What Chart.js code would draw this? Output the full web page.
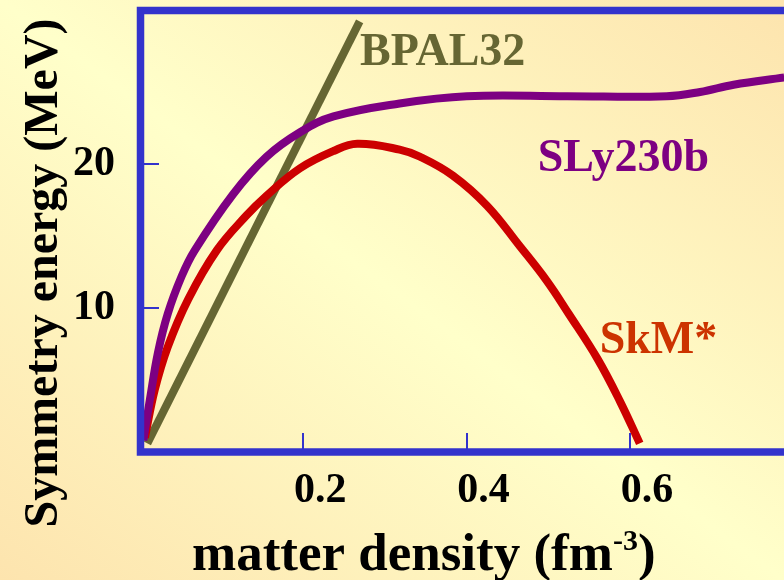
<!DOCTYPE html>
<html>
<head>
<meta charset="utf-8">
<script src="https://cdn.jsdelivr.net/npm/chart.js@4/dist/chart.umd.min.js"></script>
<style>
	html, body { margin: 0; padding: 0; }
	body {
		width: 784px; height: 580px; overflow: hidden;
		background: linear-gradient(to bottom left, #fde4ae 0%, #ffffca 50%, #fde4ae 100%);
	}
	canvas { display: block; }
</style>
</head>
<body>
<canvas id="LineChart" width="784" height="580"></canvas>
<script>
// density (fm^-3) / symmetry energy (MeV)
var slyDensity = [0.004, 0.012, 0.022, 0.034, 0.051, 0.067, 0.114, 0.155, 0.196, 0.237, 0.318, 0.40, 0.523, 0.645, 0.686, 0.727, 0.789];
var slyEnergy  = [0.8,   3.6,   6.9,   9.6,   12.2,  14.0,  17.9,  20.5,  22.2,  23.3,  24.2,  24.7, 24.7,  24.7,  25.0,  25.5,  26.0];

var skmDensity = [0.006, 0.018, 0.034, 0.059, 0.094, 0.130, 0.155, 0.196, 0.237, 0.266, 0.318, 0.343, 0.383, 0.425, 0.465, 0.498, 0.525, 0.560, 0.588, 0.612];
var skmEnergy  = [1.0,   4.3,   7.3,   10.6,  14.0,  16.4,  17.8,  19.7,  20.9,  21.4,  21.0,  20.5,  19.2,  17.1,  14.3,  11.9,  9.6,   6.5,   3.5,   0.6];

var bpalDensity = [0.009, 0.269];
var bpalEnergy  = [0.6, 29.9];

var xTickValues = [0.2, 0.4, 0.6];
var yTickValues = [10, 20];

var seriesNames = ['SLy230b', 'SkM*', 'BPAL32'];
var seriesColors = ['#7d0082', '#cc0000', '#666633'];
var labelColors = ['#7d0082', '#cc3300', '#666633'];
// where each curve name sits (data coords, left/baseline)
var labelX = [0.487, 0.563, 0.2695];
var labelY = [19.5, 6.9, 26.9];

var FONT = '"Liberation Serif", "Times New Roman", serif';
var BLUE = '#3333cc';

function toPoints(xs, ys){
	return xs.map(function(x, i){ return {x: x, y: ys[i]}; });
}

var frame = {
	id: 'frame',
	afterDatasetsDraw: function(chart){
		var ctx = chart.ctx, a = chart.chartArea;
		var xs = chart.scales.x, ys = chart.scales.y;
		ctx.save();
		// inner tick marks
		ctx.strokeStyle = BLUE;
		ctx.lineWidth = 2;
		xTickValues.forEach(function(v){
			var px = Math.round(xs.getPixelForValue(v));
			ctx.beginPath(); ctx.moveTo(px, a.bottom); ctx.lineTo(px, a.bottom - 19); ctx.stroke();
		});
		yTickValues.forEach(function(v){
			var py = Math.round(ys.getPixelForValue(v));
			ctx.beginPath(); ctx.moveTo(a.left, py); ctx.lineTo(a.left + 19, py); ctx.stroke();
		});
		// box (right side is off the page)
		ctx.lineWidth = 7.5;
		ctx.lineCap = 'square';
		ctx.beginPath();
		ctx.moveTo(chart.width + 10, a.top + 0.5);
		ctx.lineTo(a.left + 0.5, a.top + 0.5);
		ctx.lineTo(a.left + 0.5, a.bottom);
		ctx.lineTo(chart.width + 10, a.bottom);
		ctx.stroke();

		// curve names
		ctx.textBaseline = 'alphabetic';
		ctx.textAlign = 'left';
		ctx.font = 'bold 46px ' + FONT;
		seriesNames.forEach(function(n, i){
			ctx.fillStyle = labelColors[i];
			ctx.fillText(n, xs.getPixelForValue(labelX[i]), ys.getPixelForValue(labelY[i]));
		});

		// axis titles
		ctx.fillStyle = '#000';
		ctx.font = 'bold 53px ' + FONT;
		var x0 = 192, base = 570;
		var t1 = 'matter density (fm';
		ctx.fillText(t1, x0, base);
		x0 += ctx.measureText(t1).width;
		ctx.font = 'bold 30px ' + FONT;
		ctx.fillText('-3', x0, base - 20);
		x0 += ctx.measureText('-3').width;
		ctx.font = 'bold 53px ' + FONT;
		ctx.fillText(')', x0, base);

		ctx.font = 'bold 48px ' + FONT;
		ctx.translate(45, 273);
		ctx.rotate(-Math.PI / 2);
		ctx.textAlign = 'center';
		ctx.textBaseline = 'middle';
		ctx.fillText('Symmetry energy (MeV)', 0, 0);
		ctx.restore();
	}
};

new Chart(document.getElementById('LineChart'), {
	type: 'line',
	data: {
		datasets: [
			{ label: seriesNames[0], data: toPoints(slyDensity, slyEnergy), borderColor: seriesColors[0] },
			{ label: seriesNames[1], data: toPoints(skmDensity, skmEnergy), borderColor: seriesColors[1] },
			{ label: seriesNames[2], data: toPoints(bpalDensity, bpalEnergy), borderColor: seriesColors[2] }
		]
	},
	options: {
		responsive: false,
		animation: false,
		devicePixelRatio: 1,
		layout: { padding: { top: 10, right: 0, bottom: 0, left: 0 } },
		elements: {
			line: { borderWidth: 8, fill: false, tension: 0.4, borderCapStyle: 'butt' },
			point: { radius: 0, hoverRadius: 0 }
		},
		plugins: { legend: { display: false }, tooltip: { enabled: false } },
		scales: {
			x: {
				type: 'linear', min: 0, max: 0.7887,
				afterFit: function(s){ s.height = 128; s.paddingLeft = 0; s.paddingRight = 0; },
				afterBuildTicks: function(s){ s.ticks = xTickValues.map(function(v){ return {value: v}; }); },
				grid: { display: false, drawTicks: false },
				border: { display: false },
				ticks: {
					padding: 14, labelOffset: 17, color: '#000',
					font: { family: FONT, size: 42, weight: 'bold' },
					callback: function(v){ return v.toFixed(1); }
				}
			},
			y: {
				min: 0, max: 30.69,
				afterFit: function(s){ s.width = 140; s.paddingTop = 0; s.paddingBottom = 0; },
				afterBuildTicks: function(s){ s.ticks = yTickValues.map(function(v){ return {value: v}; }); },
				grid: { display: false, drawTicks: false },
				border: { display: false },
				ticks: {
					padding: 25, color: '#000',
					font: { family: FONT, size: 42, weight: 'bold' }
				}
			}
		}
	},
	plugins: [frame]
});
</script>
</body>
</html>
